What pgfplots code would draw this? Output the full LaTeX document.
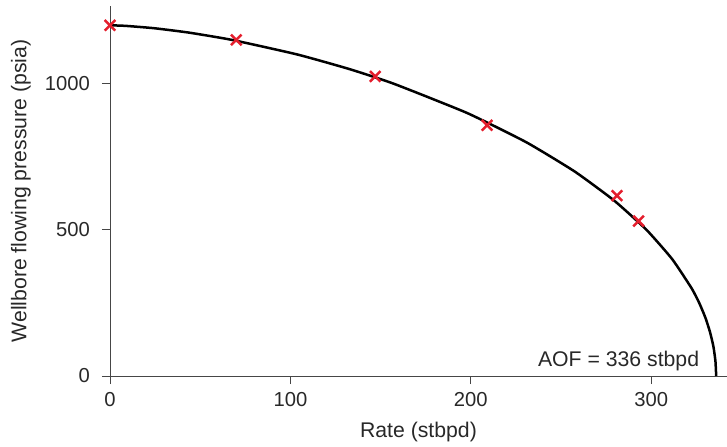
\documentclass[border=0pt]{standalone}
\usepackage{pgfplots}
\pgfplotsset{compat=1.18}
\usepackage{fontspec}
\setmainfont{Liberation Sans}
\definecolor{txt}{RGB}{40,40,40}
\definecolor{axgray}{RGB}{70,70,70}
\definecolor{mred}{RGB}{228,30,45}
\begin{document}
\fontsize{21}{25}\selectfont
\begin{tikzpicture}
\pgfplotsset{every axis y label/.style={at={(rel axis cs:0,0.5)}, xshift=-89bp, rotate=90, anchor=center}}
\begin{axis}[
  scale only axis,
  width=617bp, height=370bp,
  xmin=0, xmax=342, ymin=0, ymax=1266,
  axis x line*=bottom, axis y line*=left,
  axis line style={axgray, line width=0.9bp, -},
  tick align=outside,
  major tick length=8bp,
  tick style={axgray, line width=0.9bp},
  xtick={0,100,200,300}, ytick={0,500,1000},
  /pgf/number format/assume math mode=true,
  /pgf/number format/set thousands separator={},
  ticklabel style={font=\fontsize{20.3}{24}\selectfont, text=txt},
  xticklabel style={yshift=-1bp},
  yticklabel style={xshift=-5bp},
  xlabel={Rate (stbpd)},
  ylabel={Wellbore flowing pressure (psia)},
  label style={font=\fontsize{21.3}{25}\selectfont, text=txt},
  xlabel style={at={(rel axis cs:0.5,0)}, anchor=center, yshift=-56bp},
  clip=false,
]
\addplot[black, line width=2.5bp, smooth, tension=0.3] coordinates {
(0,1200) (8.7,1198) (24.4,1190) (43.7,1175) (67.6,1150) (103.9,1100)
(132.8,1050) (157.3,1000) (197.9,900) (230.7,800) (257.5,700) (279.5,600)
(297.4,500) (311.6,400) (322.4,300) (326.6,250) (330.0,200) (332.6,150)
(334.5,100) (335.6,50) (336,0)
};
\addplot[only marks, mark=x, mark size=7.5bp, mred, line width=2.5bp] coordinates {
(0,1200) (70,1150) (147,1025) (209,858) (281,617) (293,530)
};
\node[anchor=east, text=txt, font=\fontsize{21.3}{25}\selectfont] at (axis cs:330.5,52) {AOF = 336 stbpd};
\coordinate (sw) at (rel axis cs:0,0);
\coordinate (ne) at (rel axis cs:1,1);
\end{axis}
\pgfresetboundingbox
\path ([xshift=-110bp,yshift=-71bp]sw) rectangle ([yshift=6bp]ne);
\end{tikzpicture}
\end{document}
